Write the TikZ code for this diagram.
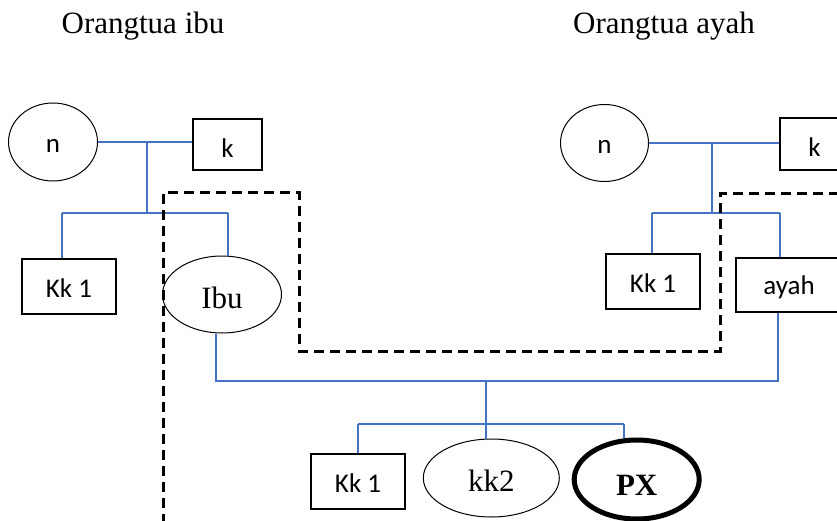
\documentclass[tikz,border=0pt]{standalone}
\usepackage{fontspec}
\setmainfont{Liberation Serif}
\newfontfamily\calib{Carlito}
\usetikzlibrary{shapes.geometric}
\definecolor{linkblue}{HTML}{4472C4}
\tikzset{
  shp/.style={draw=black, inner sep=0pt, text depth=0pt},
  oval/.style={shp, ellipse, line width=1pt},
  box/.style={shp, rectangle, line width=1.4pt},
  calt/.style={font=\calib\fontsize{27}{32}\selectfont, text height=22pt},
  sert/.style={font=\fontsize{31}{36}\selectfont},
  link/.style={draw=linkblue, line width=1.2pt},
  frame/.style={draw=black, line width=3pt, dash pattern=on 10pt off 6pt},
}
\begin{document}
\begin{tikzpicture}[x=1pt,y=-1pt]
\useasboundingbox (0,0) rectangle (837,521);
\clip (0,0) rectangle (837,521);
\fill[white] (0,0) rectangle (837,521);

% headings
\node[sert, anchor=base, inner sep=0pt] (hL) at (143,34) {Orangtua ibu};
\node[sert, anchor=base, inner sep=0pt] (hR) at (664,34) {Orangtua ayah};

% left family
\node[oval, calt, minimum width=89pt, minimum height=78pt] (nL) at (53,142) {n};
\node[box, calt, text height=26pt, minimum width=69pt, minimum height=51pt] (kL) at (227.5,144.5) {k};
\node[box, calt, minimum width=94pt, minimum height=55pt] (kk1L) at (69,286.5) {Kk 1};
\node[oval, sert, text height=27pt, minimum width=119pt, minimum height=77pt] (ibu) at (222,294.5) {Ibu};

% right family
\node[oval, calt, minimum width=88pt, minimum height=77pt] (nR) at (604.5,143) {n};
\node[box, calt, text height=26pt, minimum width=69pt, minimum height=52pt] (kR) at (814.5,144) {k};
\node[box, calt, minimum width=94pt, minimum height=55pt] (kk1R) at (653,281.5) {Kk 1};
\node[box, calt, text height=18pt, minimum width=106pt, minimum height=54pt] (ayah) at (789,285) {ayah};

% children
\node[box, calt, minimum width=94pt, minimum height=55pt] (kk1B) at (358,481.5) {Kk 1};
\node[oval, sert, text height=26pt, minimum width=136pt, minimum height=78pt] (kk2) at (491.3,478) {kk2};
\node[oval, sert, font=\fontsize{31}{36}\selectfont\bfseries, text height=31pt, line width=5pt, minimum width=125pt, minimum height=79pt] (px) at (636.7,479.5) {PX};

% junction coordinates
\coordinate (jL) at (147,142);
\coordinate (sL) at (147,213);
\coordinate (sL1) at (62,213);
\coordinate (sL2) at (228,213);
\coordinate (jR) at (712,143);
\coordinate (sR) at (712,213);
\coordinate (sR1) at (652,213);
\coordinate (sR2) at (780,213);
\coordinate (pI) at (216,381);
\coordinate (pA) at (778,381);
\coordinate (pM) at (486,381);
\coordinate (cM) at (486,424);
\coordinate (c1) at (358,424);
\coordinate (c3) at (624,424);

% left connectors
\draw[link] (nL.east) -- (kL.west |- nL.east);
\draw[link] (jL) -- (sL);
\draw[link] (sL1) -- (sL2);
\draw[link] (sL1) -- (sL1 |- kk1L.north);
\draw[link] (sL2) -- (sL2 |- ibu.north);

% right connectors
\draw[link] (nR.east) -- (kR.west |- nR.east);
\draw[link] (jR) -- (sR);
\draw[link] (sR1) -- (sR2);
\draw[link] (sR1) -- (sR1 |- kk1R.north);
\draw[link] (sR2) -- (sR2 |- ayah.north);

% parents to children
\draw[link] (pI |- ibu.south) -- (pI) -- (pA) -- (pA |- ayah.south);
\draw[link] (pM) -- (pM |- kk2.north);
\draw[link] (c1) -- (c3);
\draw[link] (c1) -- (kk1B.north);
\draw[link] (c3) -- (c3 |- px.north);

% dashed frame
\coordinate (d0) at (163,540);
\coordinate (d1) at (163,193);
\coordinate (d2) at (299,193);
\coordinate (d3) at (299,351);
\coordinate (d4) at (720,351);
\coordinate (d5) at (720,194);
\coordinate (d6) at (860,194);
\draw[frame] (d0) -- (d1) -- (d2) -- (d3) -- (d4) -- (d5) -- (d6);
\end{tikzpicture}
\end{document}
